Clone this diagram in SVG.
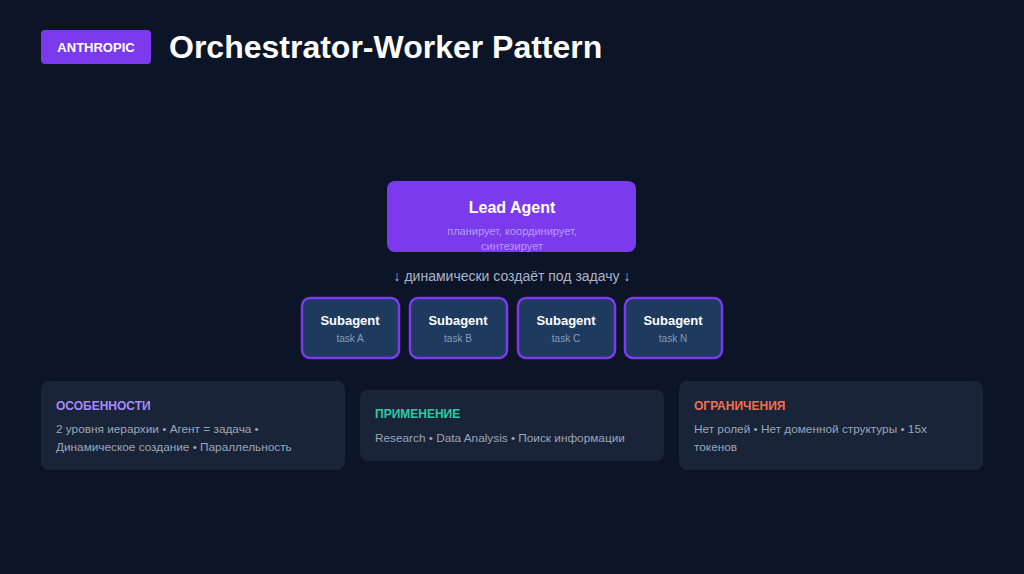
<svg xmlns="http://www.w3.org/2000/svg" width="1024" height="574" viewBox="0 0 1024 574">
<style>
text{font-family:"Liberation Sans",Arial,sans-serif}
.b{font-weight:bold}
.sub{fill:#1e3a5f;stroke:#7c3aed;stroke-width:2.5}
.st{fill:#ffffff;font-size:13px;font-weight:bold;text-anchor:middle}
.tk{fill:#8a9bb5;font-size:10px;text-anchor:middle}
.card{fill:#1a2438}
.h{font-size:12px;font-weight:bold}
.bd{fill:#9aa5b8;font-size:11.8px}
</style>
<rect width="1024" height="574" fill="#0c1427"/>
<g id="header">
<rect x="41" y="30" width="110" height="34" rx="4" fill="#7c3aed"/>
<text x="96" y="52" class="b" font-size="13" fill="#ffffff" text-anchor="middle">ANTHROPIC</text>
<text x="169" y="58" class="b" font-size="32" fill="#ffffff">Orchestrator-Worker Pattern</text>
</g>
<g id="lead">
<rect x="387" y="181" width="249" height="71" rx="8" fill="#7c3aed"/>
<text x="512" y="213" class="b" font-size="16" fill="#ffffff" text-anchor="middle">Lead Agent</text>
<text x="512" y="235" font-size="11" fill="#b79cf3" text-anchor="middle">планирует, координирует,</text>
<text x="512" y="250" font-size="11" fill="#b79cf3" text-anchor="middle">синтезирует</text>
</g>
<g id="connectors">
<text x="512" y="281" font-size="14" fill="#aab4c8" text-anchor="middle">↓ динамически создаёт под задачу ↓</text>
</g>
<g id="subA"><rect class="sub" x="302" y="298" width="97" height="60" rx="8"/><text class="st" x="350" y="325">Subagent</text><text class="tk" x="350" y="342">task A</text></g>
<g id="subB"><rect class="sub" x="410" y="298" width="97" height="60" rx="8"/><text class="st" x="458" y="325">Subagent</text><text class="tk" x="458" y="342">task B</text></g>
<g id="subC"><rect class="sub" x="518" y="298" width="97" height="60" rx="8"/><text class="st" x="566" y="325">Subagent</text><text class="tk" x="566" y="342">task C</text></g>
<g id="subN"><rect class="sub" x="625" y="298" width="97" height="60" rx="8"/><text class="st" x="673" y="325">Subagent</text><text class="tk" x="673" y="342">task N</text></g>
<g id="card1">
<rect class="card" x="41" y="381" width="304" height="89" rx="8"/>
<text class="h" x="56" y="410" fill="#a78bfa">ОСОБЕННОСТИ</text>
<text class="bd" x="56" y="433">2 уровня иерархии • Агент = задача •</text>
<text class="bd" x="56" y="451">Динамическое создание • Параллельность</text>
</g>
<g id="card2">
<rect class="card" x="360" y="390" width="304" height="71" rx="8"/>
<text class="h" x="375" y="418" fill="#2fc9a4">ПРИМЕНЕНИЕ</text>
<text class="bd" x="375" y="442">Research • Data Analysis • Поиск информации</text>
</g>
<g id="card3">
<rect class="card" x="679" y="381" width="304" height="89" rx="8"/>
<text class="h" x="694" y="410" fill="#f07050">ОГРАНИЧЕНИЯ</text>
<text class="bd" x="694" y="433">Нет ролей • Нет доменной структуры • 15x</text>
<text class="bd" x="694" y="451">токенов</text>
</g>
</svg>
